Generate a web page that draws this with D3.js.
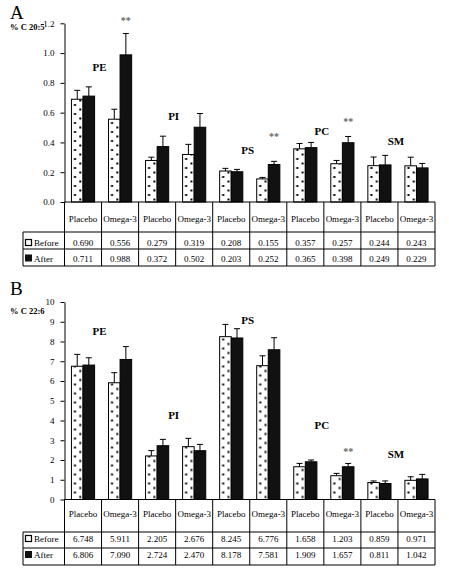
<!DOCTYPE html>
<html><head><meta charset="utf-8">
<script src="https://cdn.jsdelivr.net/npm/d3@7"></script>
<style>
html,body{margin:0;padding:0;background:#fff;}
svg{display:block;font-family:"Liberation Serif","Times New Roman",serif;}
</style></head>
<body>
<script>
// ---------- data ----------
const groups = ["PE","PI","PS","PC","SM"];
const treatments = ["Placebo","Omega-3"];
const rowNames = ["Before","After"];

// Panel A: % C 20:5
const beforeA = [0.690,0.556,0.279,0.319,0.208,0.155,0.357,0.257,0.244,0.243];
const afterA  = [0.711,0.988,0.372,0.502,0.203,0.252,0.365,0.398,0.249,0.229];
const errBeforeA = [0.060,0.067,0.022,0.068,0.018,0.010,0.036,0.022,0.058,0.058];
const errAfterA  = [0.062,0.143,0.070,0.092,0.016,0.021,0.035,0.042,0.064,0.030];
const ticksA = [0,0.2,0.4,0.6,0.8,1.0,1.2];
const groupLabelYA = [0.90,0.57,0.34,0.47,0.40];
const sigA = [1,5,7];
const sigYA = [1.21,0.43,0.53];

// Panel B: % C 22:6
const beforeB = [6.748,5.911,2.205,2.676,8.245,6.776,1.658,1.203,0.859,0.971];
const afterB  = [6.806,7.090,2.724,2.470,8.178,7.581,1.909,1.657,0.811,1.042];
const errBeforeB = [0.60,0.51,0.27,0.42,0.62,0.50,0.17,0.12,0.08,0.18];
const errAfterB  = [0.37,0.65,0.32,0.32,0.47,0.61,0.09,0.17,0.13,0.23];
const ticksB = [0,1,2,3,4,5,6,7,8,9,10];
const groupLabelYB = [8.45,4.2,9.0,3.7,2.25];
const sigB = [7];
const sigYB = [2.35];

// ---------- layout ----------
const W = 449, H = 569;
const svg = d3.select("body").append("svg").attr("width",W).attr("height",H);
const defs = svg.append("defs");
const xLeft = 64.5, xRight = 435, labelLeft = 23;

const cols = d3.range(10);
const x = d3.scaleBand().domain(cols).range([xLeft,xRight]).paddingInner(0).paddingOuter(0);
const xSub = d3.scaleBand().domain(rowNames).range([0,x.bandwidth()]).paddingInner(0).paddingOuter(0.6);

const panels = [
  {id:"A", letter:"A", letterY:18.5, ylab:"% C 20:5", ylabY:29.5, zeroY:202, topY:23.3, max:1.2, ticks:ticksA, fmt:d3.format(".1f"),
   before:beforeA, after:afterA, eb:errBeforeA, ea:errAfterA, labY:groupLabelYA, sig:sigA, sigY:sigYA, vfmt:d3.format(".3f"),
   rows:[202,232,249,266], textY:[221.5,245.5,261.5]},
  {id:"B", letter:"B", letterY:294.5, ylab:"% C 22:6", ylabY:314, zeroY:499.5, topY:302, max:10, ticks:ticksB, fmt:d3.format("d"),
   before:beforeB, after:afterB, eb:errBeforeB, ea:errAfterB, labY:groupLabelYB, sig:sigB, sigY:sigYB, vfmt:d3.format(".3f"),
   rows:[499.5,532,548,565], textY:[516.5,541.5,558]}
];

panels.forEach(p => {
  const g = svg.append("g");
  const y = d3.scaleLinear().domain([0,p.max]).range([p.zeroY,p.topY]);

  // panel letter and y label
  g.append("text").attr("x",10).attr("y",p.letterY).attr("font-size",19).text(p.letter);
  g.append("text").attr("x",10).attr("y",p.ylabY).attr("font-size",8.5).attr("font-weight","bold").text(p.ylab);

  // y axis
  const ax = g.append("g").attr("transform",`translate(${xLeft},0)`)
    .call(d3.axisLeft(y).tickValues(p.ticks).tickFormat(p.fmt).tickSize(4).tickSizeOuter(0).tickPadding(6));
  ax.select(".domain").attr("stroke","#000");
  ax.selectAll(".tick line").attr("stroke","#000");
  ax.selectAll(".tick text").attr("font-family","Liberation Serif, serif").attr("font-size",9).attr("fill","#000");

  // bars
  const series = [
    {key:"Before", vals:p.before, errs:p.eb},
    {key:"After", vals:p.after, errs:p.ea}
  ];
  series.forEach(s => {
    cols.forEach(i => {
      const bx = x(i) + xSub(s.key);
      const bw = xSub.bandwidth();
      let fill = "#111";
      if (s.key === "Before") {
        const pid = `dot${p.id}${i}`;
        const pat = defs.append("pattern").attr("id",pid).attr("patternUnits","userSpaceOnUse")
          .attr("x",bx).attr("y",p.zeroY).attr("width",bw).attr("height",9);
        pat.append("rect").attr("width",bw).attr("height",9).attr("fill","#fff");
        pat.append("rect").attr("x",bw*0.22).attr("y",1).attr("width",2).attr("height",2).attr("fill","#000");
        pat.append("rect").attr("x",bw*0.68).attr("y",5.5).attr("width",2).attr("height",2).attr("fill","#000");
        fill = `url(#${pid})`;
      }
      // error bar (upper only)
      const cx = bx + bw/2;
      g.append("line").attr("x1",cx).attr("x2",cx).attr("y1",y(s.vals[i])).attr("y2",y(s.vals[i]+s.errs[i]))
        .attr("stroke","#000").attr("stroke-width",1);
      g.append("line").attr("x1",cx-3).attr("x2",cx+3).attr("y1",y(s.vals[i]+s.errs[i])).attr("y2",y(s.vals[i]+s.errs[i]))
        .attr("stroke","#000").attr("stroke-width",1);
      g.append("rect").attr("x",bx).attr("y",y(s.vals[i])).attr("width",bw).attr("height",p.zeroY-y(s.vals[i]))
        .attr("fill",fill).attr("stroke","#000").attr("stroke-width",1);
    });
  });

  // group labels
  groups.forEach((gr,k) => {
    const gx = (x(2*k) + x(2*k+1) + x.bandwidth())/2 - 2;
    g.append("text").attr("x",gx).attr("y",y(p.labY[k])).attr("text-anchor","middle").attr("dominant-baseline","middle")
      .attr("font-size",11).attr("font-weight","bold").text(gr);
  });
  // significance
  p.sig.forEach((c,k) => {
    const sx = x(c) + xSub("After") + xSub.bandwidth()/2;
    g.append("text").attr("x",sx).attr("y",y(p.sigY[k])).attr("text-anchor","middle").attr("dominant-baseline","middle")
      .attr("font-size",10).attr("font-weight","bold").attr("fill","#666").text("**");
  });

  // x axis line
  g.append("line").attr("x1",xLeft).attr("x2",xRight).attr("y1",p.zeroY).attr("y2",p.zeroY).attr("stroke","#000");

  // table
  const r = p.rows;
  const T = g.append("g").attr("stroke","#000").attr("stroke-width",1);
  // vertical lines between columns
  cols.concat([10]).forEach(i => {
    const vx = i < 10 ? x(i) : xRight;
    T.append("line").attr("x1",vx).attr("x2",vx).attr("y1",r[0]).attr("y2",r[3]);
  });
  T.append("line").attr("x1",labelLeft).attr("x2",labelLeft).attr("y1",r[1]).attr("y2",r[3]);
  [1,2,3].forEach(j => T.append("line").attr("x1",labelLeft).attr("x2",xRight).attr("y1",r[j]).attr("y2",r[j]));

  cols.forEach(i => {
    const cx = x(i) + x.bandwidth()/2;
    g.append("text").attr("x",cx).attr("y",p.textY[0]).attr("text-anchor","middle").attr("font-size",9).text(treatments[i%2]);
    g.append("text").attr("x",cx).attr("y",p.textY[1]).attr("text-anchor","middle").attr("font-size",9).text(p.vfmt(p.before[i]));
    g.append("text").attr("x",cx).attr("y",p.textY[2]).attr("text-anchor","middle").attr("font-size",9).text(p.vfmt(p.after[i]));
  });
  // row labels with legend squares
  g.append("rect").attr("x",25.5).attr("y",p.textY[1]-6).attr("width",6).attr("height",6).attr("fill","#fff").attr("stroke","#000").attr("stroke-width",1.2);
  g.append("rect").attr("x",25).attr("y",p.textY[2]-7).attr("width",7).attr("height",7).attr("fill","#111");
  g.append("text").attr("x",34).attr("y",p.textY[1]).attr("font-size",9).text("Before");
  g.append("text").attr("x",34).attr("y",p.textY[2]).attr("font-size",9).text("After");
});
</script>
</body></html>
